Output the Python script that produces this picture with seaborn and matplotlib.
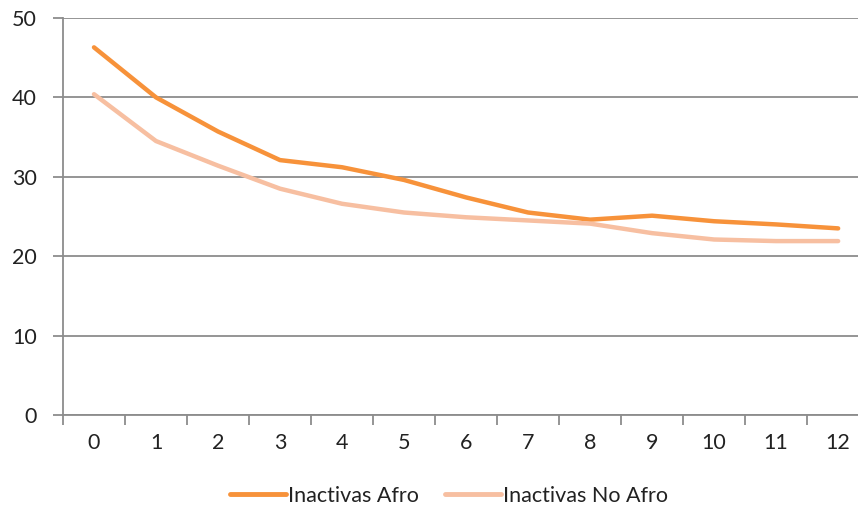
import matplotlib
matplotlib.use("Agg")
import matplotlib.pyplot as plt
import seaborn as sns
import pandas as pd

# data
years = list(range(13))
afro = [46.3, 40.0, 35.7, 32.1, 31.2, 29.6, 27.4, 25.5, 24.6, 25.1, 24.4, 24.0, 23.5]
no_afro = [40.4, 34.5, 31.4, 28.5, 26.6, 25.5, 24.9, 24.5, 24.1, 22.9, 22.1, 21.9, 21.9]
labels = ["Inactivas Afro", "Inactivas No Afro"]
colors = ["#F7923A", "#F7BFA1"]

df = pd.DataFrame({
    "x": years * 2,
    "valor": afro + no_afro,
    "serie": [labels[0]] * len(years) + [labels[1]] * len(years),
})

sns.set_style("white")
plt.rcParams["font.family"] = ["Lato", "DejaVu Sans"]

fig = plt.figure(figsize=(8.58, 5.09), dpi=100)
ax = fig.add_axes([0.0734, 0.1847, 0.9266, 0.78])

sns.lineplot(data=df, x="x", y="valor", hue="serie", palette=colors,
             linewidth=3.2, ax=ax, legend=False, solid_capstyle="round")

ax.set_ylim(0, 50)
ax.set_xlim(-0.5, 12.32)
ax.set_yticks(range(0, 51, 10))
ax.set_xticks(years)
ax.set_xticks([i + 0.5 for i in range(-1, 12)], minor=True)
ax.grid(axis="y", color="#8c8c8c", linewidth=1.3)
ax.set_axisbelow(True)

for s in ["top", "right"]:
    ax.spines[s].set_visible(False)
for s in ["left", "bottom"]:
    ax.spines[s].set_color("#8c8c8c")
    ax.spines[s].set_linewidth(1.3)

ax.tick_params(axis="x", which="major", bottom=False, length=0, pad=13, labelsize=15.5, labelcolor="#222222")
ax.tick_params(axis="x", which="minor", bottom=True, length=7, width=1.3, color="#8c8c8c")
ax.tick_params(axis="y", left=True, length=7, width=1.3, color="#8c8c8c", pad=12, labelsize=15.5, labelcolor="#222222")
ax.set_xlabel("")
ax.set_ylabel("")

handles = [plt.Line2D([0], [0], color=c, linewidth=3.5, solid_capstyle="round") for c in colors]
fig.legend(handles, labels, loc="lower center", bbox_to_anchor=(0.523, -0.032), ncol=2,
           frameon=False, fontsize=15.5, handlelength=2.6, handletextpad=0.1, columnspacing=1.2,
           labelcolor="#222222")

fig.savefig("out.png", dpi=100)
